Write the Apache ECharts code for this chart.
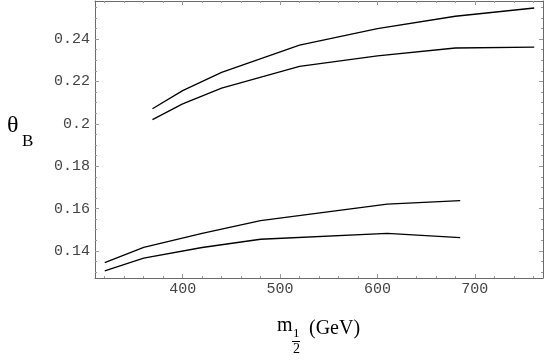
<!DOCTYPE html>
<html>
<head>
<meta charset="utf-8">
<script src="https://cdn.jsdelivr.net/npm/echarts@6/dist/echarts.min.js"></script>
<style>
html,body{margin:0;padding:0;background:#fff;}
#chart{width:545px;height:362px;}
</style>
</head>
<body>
<div id="chart"></div>
<script>
// ---- data ----
var upperBandTopX = [369, 400, 440, 520, 600, 680, 761];
var upperBandTopY = [0.2071, 0.2157, 0.2243, 0.2372, 0.2450, 0.2508, 0.2547];
var upperBandBotX = [369, 400, 440, 520, 600, 680, 761];
var upperBandBotY = [0.2020, 0.2094, 0.2169, 0.2271, 0.2321, 0.2358, 0.2362];
var lowerBandTopX = [320, 360, 420, 480, 610, 685];
var lowerBandTopY = [0.1345, 0.1417, 0.1483, 0.1543, 0.1621, 0.1637];
var lowerBandBotX = [320, 360, 420, 480, 610, 685];
var lowerBandBotY = [0.1306, 0.1366, 0.1416, 0.1455, 0.1483, 0.1463];

var xMajor = [400, 500, 600, 700];
var xMinor = [320, 340, 360, 380, 420, 440, 460, 480, 520, 540, 560, 580, 620, 640, 660, 680, 720, 740, 760];
var yMajor = [0.14, 0.16, 0.18, 0.2, 0.22, 0.24];
var yMajorLabels = ['0.14', '0.16', '0.18', '0.2', '0.22', '0.24'];
var yMinor = [0.13, 0.135, 0.145, 0.15, 0.155, 0.165, 0.17, 0.175, 0.185, 0.19, 0.195, 0.205, 0.21, 0.215, 0.225, 0.23, 0.235, 0.245, 0.25, 0.255];

var X_MIN = 310, X_MAX = 770, Y_MIN = 0.1272, Y_MAX = 0.258;

function pairs(xs, ys) { return xs.map(function (x, i) { return [x, ys[i]]; }); }

var axisLineStyle = { color: '#6a6a6a', width: 1 };
var tickColor = '#9a9a9a';

function xAxisDef(pos, values, len, labels, showLine) {
  return {
    type: 'value', position: pos, min: X_MIN, max: X_MAX,
    axisLine: { show: showLine, onZero: false, lineStyle: axisLineStyle },
    axisTick: { show: true, inside: true, length: len, customValues: values, lineStyle: { color: tickColor, width: 1 } },
    axisLabel: labels ? {
      show: true, customValues: values, margin: 4,
      fontFamily: 'Liberation Mono', fontSize: 15, color: '#444',
      formatter: function (v) { return String(v); }
    } : { show: false },
    splitLine: { show: false }
  };
}
function yAxisDef(pos, values, len, labels, showLine) {
  return {
    type: 'value', position: pos, min: Y_MIN, max: Y_MAX,
    axisLine: { show: showLine, onZero: false, lineStyle: axisLineStyle },
    axisTick: { show: true, inside: true, length: len, customValues: values, lineStyle: { color: tickColor, width: 1 } },
    axisLabel: labels ? {
      show: true, customValues: values, margin: 5,
      fontFamily: 'Liberation Mono', fontSize: 15, color: '#444',
      formatter: function (v) {
        var i = yMajor.findIndex(function (m) { return Math.abs(m - v) < 1e-6; });
        return i >= 0 ? yMajorLabels[i] : '';
      }
    } : { show: false },
    splitLine: { show: false }
  };
}

function lineSeries(xs, ys) {
  return {
    type: 'line', xAxisIndex: 0, yAxisIndex: 0,
    data: pairs(xs, ys), showSymbol: false, symbol: 'none',
    lineStyle: { color: '#000', width: 1.3 }, silent: true, animation: false
  };
}

var chart = echarts.init(document.getElementById('chart'), null, { renderer: 'canvas' });
chart.setOption({
  animation: false,
  backgroundColor: '#fff',
  grid: { left: 95, right: 2, top: 1, bottom: 84, containLabel: false },
  xAxis: [
    xAxisDef('bottom', xMajor, 4, true, true),
    xAxisDef('bottom', xMinor, 2, false, false),
    xAxisDef('top', xMajor, 4, false, true),
    xAxisDef('top', xMinor, 2, false, false)
  ],
  yAxis: [
    yAxisDef('left', yMajor, 4, true, true),
    yAxisDef('left', yMinor, 2, false, false),
    yAxisDef('right', yMajor, 4, false, true),
    yAxisDef('right', yMinor, 2, false, false)
  ],
  series: [
    lineSeries(upperBandTopX, upperBandTopY),
    lineSeries(upperBandBotX, upperBandBotY),
    lineSeries(lowerBandTopX, lowerBandTopY),
    lineSeries(lowerBandBotX, lowerBandBotY)
  ],
  graphic: [
    { type: 'text', left: 7, top: 114, style: { text: 'θ', font: '24px "Liberation Serif"', fill: '#000' } },
    { type: 'text', left: 22, top: 133, style: { text: 'B', font: '17px "Liberation Serif"', fill: '#000' } },
    { type: 'text', left: 277, top: 316, style: { text: 'm', font: '20px "Liberation Serif"', fill: '#000' } },
    { type: 'text', left: 293, top: 327, style: { text: '1', font: '13px "Liberation Serif"', fill: '#000' } },
    { type: 'line', shape: { x1: 292, y1: 341.5, x2: 300, y2: 341.5 }, style: { stroke: '#000', lineWidth: 1 } },
    { type: 'text', left: 293, top: 342, style: { text: '2', font: '14px "Liberation Serif"', fill: '#000' } },
    { type: 'text', left: 309, top: 319, style: { text: '(GeV)', font: '20px "Liberation Serif"', fill: '#000' } }
  ]
});
</script>
</body>
</html>
